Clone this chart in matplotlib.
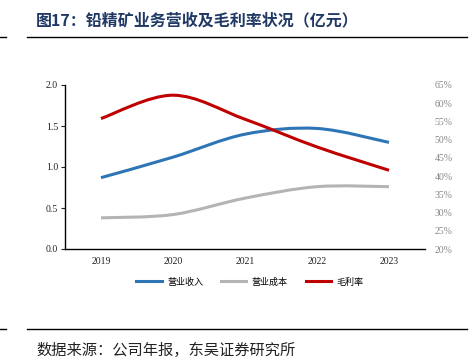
import numpy as np
import matplotlib.pyplot as plt
from matplotlib.path import Path
from matplotlib.patches import PathPatch
from matplotlib.lines import Line2D

plt.rcParams['font.family'] = ['Noto Sans CJK SC', 'DejaVu Sans']

years = ["2019", "2020", "2021", "2022", "2023"]
revenue = [0.87, 1.12, 1.40, 1.47, 1.30]
cost = [0.38, 0.42, 0.62, 0.76, 0.76]
margin = [55.8, 62.2, 55.6, 48.0, 41.6]

BLUE = "#2E75B6"
GRAY = "#B4B4B4"
RED = "#C00000"


def smooth_path(x, y, t=0.5):
    # Catmull-Rom style bezier through the points (like Excel smoothed lines)
    x = np.asarray(x, float)
    y = np.asarray(y, float)
    verts = [(x[0], y[0])]
    codes = [Path.MOVETO]
    n = len(x)
    for i in range(n - 1):
        p0 = np.array([x[max(i - 1, 0)], y[max(i - 1, 0)]])
        p1 = np.array([x[i], y[i]])
        p2 = np.array([x[i + 1], y[i + 1]])
        p3 = np.array([x[min(i + 2, n - 1)], y[min(i + 2, n - 1)]])
        c1 = p1 + (p2 - p0) * t / 3
        c2 = p2 - (p3 - p1) * t / 3
        verts += [tuple(c1), tuple(c2), tuple(p2)]
        codes += [Path.CURVE4] * 3
    return Path(verts, codes)


fig = plt.figure(figsize=(4.72, 3.63), dpi=100)
ax = fig.add_axes([65 / 472, 1 - 249 / 363, 360 / 472, 164 / 363])
ax2 = ax.twinx()

x = np.arange(len(years))
ax.add_patch(PathPatch(smooth_path(x, revenue), fill=False, edgecolor=BLUE, lw=2.2))
ax.add_patch(PathPatch(smooth_path(x, cost), fill=False, edgecolor=GRAY, lw=2.2))
ax2.add_patch(PathPatch(smooth_path(x, margin), fill=False, edgecolor=RED, lw=2.2))

ax.set_xlim(-0.5, len(years) - 0.5)
ax.set_ylim(0, 2.0)
ax.set_yticks([0, 0.5, 1.0, 1.5, 2.0])
ax.set_yticklabels(["0.0", "0.5", "1.0", "1.5", "2.0"])
ax.set_xticks(x)
ax.set_xticklabels(years)
ax2.set_ylim(20, 65)
ax2.set_yticks(range(20, 70, 5))
ax2.set_yticklabels([f"{v}%" for v in range(20, 70, 5)])

for a in (ax, ax2):
    for s in ("top", "right"):
        a.spines[s].set_visible(False)
ax2.spines["left"].set_visible(False)
ax2.spines["bottom"].set_visible(False)
ax.spines["left"].set_linewidth(1.0)
ax.spines["bottom"].set_linewidth(1.0)

serif = "Liberation Serif"
ax.tick_params(axis="y", length=3, width=0.8, labelsize=7, pad=2, colors="#222222")
ax.tick_params(axis="x", length=0, labelsize=7, pad=6, colors="#222222")
for lab in ax.get_xticklabels() + ax.get_yticklabels():
    lab.set_family(serif)
ax2.tick_params(axis="y", length=0, labelsize=7, pad=7, labelcolor="#888888")
for lab in ax2.get_yticklabels():
    lab.set_family(serif)

handles = [Line2D([], [], color=c, lw=2.2) for c in (BLUE, GRAY, RED)]
fig.legend(handles, ["营业收入", "营业成本", "毛利率"], loc="center",
           bbox_to_anchor=(250 / 472, 1 - 282 / 363), ncol=3, frameon=False,
           fontsize=6.5, handlelength=2.8, columnspacing=2.0, handletextpad=0.6)

fig.text(36 / 472, 1 - 20 / 363, "图17：铅精矿业务营收及毛利率状况（亿元）",
         fontsize=11.5, fontweight="bold", color="#1F3864", va="center")
fig.add_artist(Line2D([27 / 472, 467 / 472], [1 - 37 / 363] * 2, color="black", lw=1.0))
fig.add_artist(Line2D([0, 6 / 472], [1 - 37 / 363] * 2, color="black", lw=1.0))
fig.add_artist(Line2D([27 / 472, 467 / 472], [1 - 329 / 363] * 2, color="black", lw=1.0))
fig.add_artist(Line2D([0, 6 / 472], [1 - 329 / 363] * 2, color="black", lw=1.0))
fig.text(36 / 472, 1 - 350 / 363, "数据来源：公司年报，东吴证券研究所",
         fontsize=11, color="#222222", va="center")

fig.savefig("out.png", dpi=100)
